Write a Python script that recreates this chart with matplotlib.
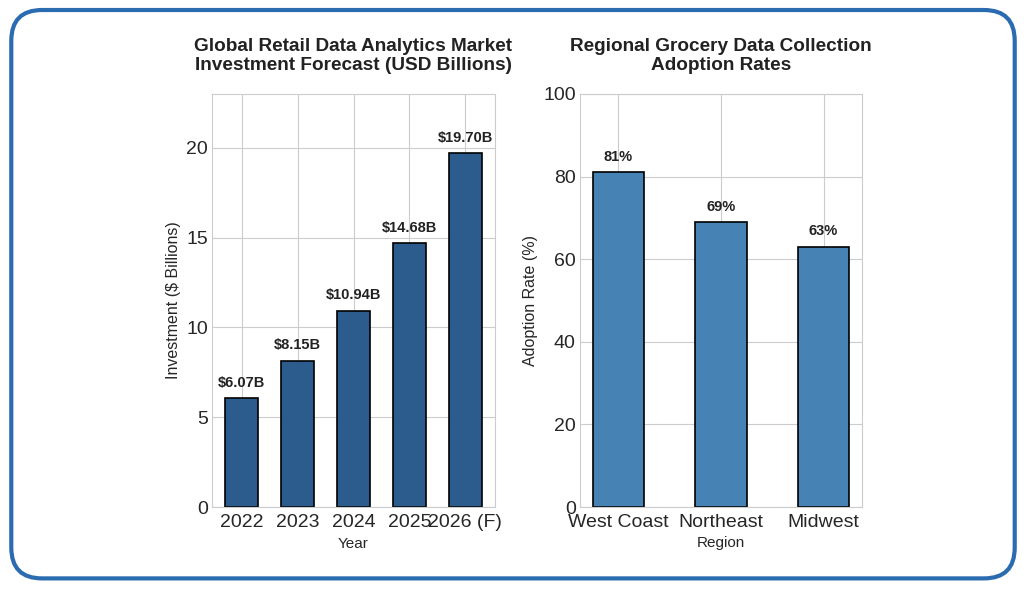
import matplotlib
matplotlib.use("Agg")
import matplotlib.pyplot as plt
from matplotlib.patches import FancyBboxPatch
import seaborn as sns

sns.set_style("whitegrid")
plt.rcParams['font.family'] = ['Liberation Sans', 'DejaVu Sans']

years = ["2022", "2023", "2024", "2025", "2026 (F)"]
invest = [6.07, 8.15, 10.94, 14.68, 19.70]

regions = ["West Coast", "Northeast", "Midwest"]
adoption = [81, 69, 63]

fig = plt.figure(figsize=(10.26, 5.89), dpi=100)

# rounded border around everything
border = FancyBboxPatch((0.011, 0.018), 0.978, 0.965,
                        boxstyle="round,pad=0,rounding_size=0.03",
                        transform=fig.transFigure, fill=False,
                        edgecolor="#2b6cb0", linewidth=3, mutation_aspect=1026/589)
fig.patches.append(border)

ax1 = fig.add_axes([212/1026, 82/589, 283/1026, 413/589])
ax2 = fig.add_axes([580/1026, 82/589, 282/1026, 413/589])

ax1.bar(range(len(years)), invest, width=0.6, color="#2c5b8e", edgecolor="black", linewidth=1.2)
for i, v in enumerate(invest):
    ax1.annotate("\\$%.2fB" % v, (i, v), xytext=(0, 6), textcoords="offset points",
                 ha="center", va="bottom", fontsize=10.5, fontweight="bold", color="#222222")
ax1.set_xticks(range(len(years)))
ax1.set_xticklabels(years)
ax1.set_ylim(0, 23)
ax1.set_yticks([0, 5, 10, 15, 20])
ax1.set_title("Global Retail Data Analytics Market\nInvestment Forecast (USD Billions)",
              fontsize=13.7, fontweight="bold", pad=17, color="#222222")
ax1.set_xlabel("Year", fontsize=11)
ax1.set_ylabel("Investment (\\$ Billions)", fontsize=11.5)

ax2.bar(range(len(regions)), adoption, width=0.5, color="#4682b4", edgecolor="black", linewidth=1.2)
for i, v in enumerate(adoption):
    ax2.annotate("%d%%" % v, (i, v), xytext=(0, 6), textcoords="offset points",
                 ha="center", va="bottom", fontsize=10.5, fontweight="bold", color="#222222")
ax2.set_xticks(range(len(regions)))
ax2.set_xticklabels(regions)
ax2.set_ylim(0, 100)
ax2.set_title("Regional Grocery Data Collection\nAdoption Rates",
              fontsize=13.7, fontweight="bold", pad=17, color="#222222")
ax2.set_xlabel("Region", fontsize=11)
ax2.set_ylabel("Adoption Rate (%)", fontsize=11.5)

for ax in (ax1, ax2):
    ax.tick_params(labelsize=14, length=0)
    ax.tick_params(axis="y", pad=3)
    ax.tick_params(axis="x", pad=5)
    ax.set_axisbelow(True)

fig.savefig("out.png", dpi=100)
